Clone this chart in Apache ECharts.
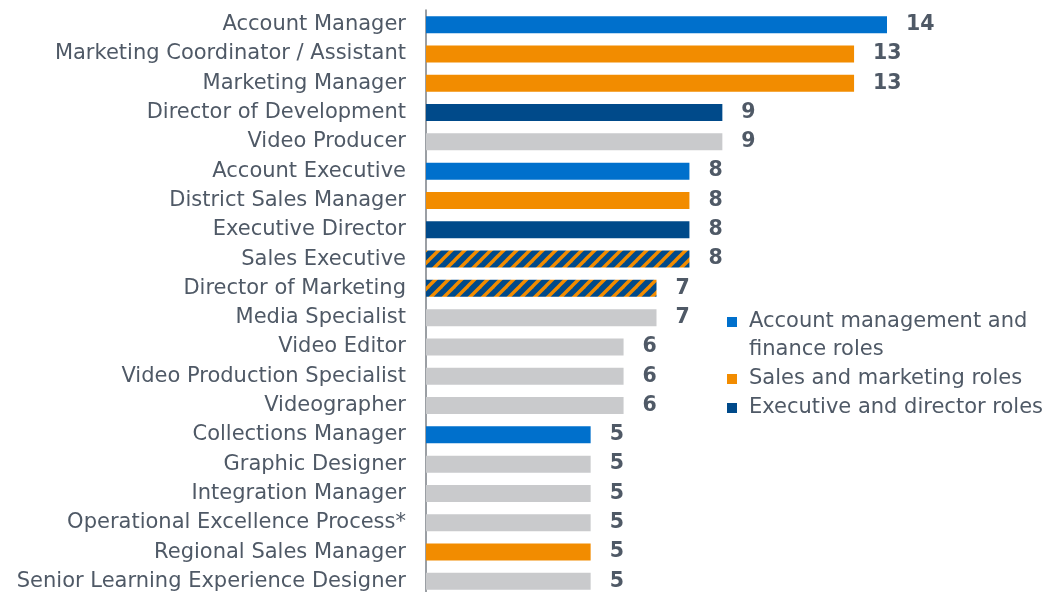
<!DOCTYPE html>
<html>
<head>
<meta charset="utf-8">
<script src="https://cdn.jsdelivr.net/npm/echarts@6/dist/echarts.min.js"></script>
<style>
  html, body { margin: 0; padding: 0; background: #fff; }
  #chart { width: 1051px; height: 592px; }
</style>
</head>
<body>
<div id="chart"></div>
<script>
// role titles, top to bottom
var roles = [
  "Account Manager",
  "Marketing Coordinator / Assistant",
  "Marketing Manager",
  "Director of Development",
  "Video Producer",
  "Account Executive",
  "District Sales Manager",
  "Executive Director",
  "Sales Executive",
  "Director of Marketing",
  "Media Specialist",
  "Video Editor",
  "Video Production Specialist",
  "Videographer",
  "Collections Manager",
  "Graphic Designer",
  "Integration Manager",
  "Operational Excellence Process*",
  "Regional Sales Manager",
  "Senior Learning Experience Designer"
];
var counts = [14, 13, 13, 9, 9, 8, 8, 8, 8, 7, 7, 6, 6, 6, 5, 5, 5, 5, 5, 5];
// group of each role: acct / sales / exec / mixed (sales + exec) / other
var groups = ["acct", "sales", "sales", "exec", "other", "acct", "sales", "exec", "mixed", "mixed",
  "other", "other", "other", "other", "acct", "other", "other", "other", "sales", "other"];
var groupNames = {
  acct: "Account management and finance roles",
  sales: "Sales and marketing roles",
  exec: "Executive and director roles",
  other: "Other roles",
  mixed: "Sales and executive roles"
};

var BLUE = "#0070cc";
var ORANGE = "#f28c00";
var NAVY = "#004a8a";
var GRAY = "#c9cacc";
var TEXT = "#4f5966";
var FONT = "DejaVu Sans";

// striped fill for roles that are both sales and executive
function stripes() {
  var s = 13;
  var c = document.createElement("canvas");
  c.width = s;
  c.height = s;
  var ctx = c.getContext("2d");
  ctx.fillStyle = NAVY;
  ctx.fillRect(0, 0, s, s);
  ctx.strokeStyle = ORANGE;
  ctx.lineWidth = 3.4;
  [[-s, s, s, -s], [0, s, s, 0], [0, 2 * s, 2 * s, 0]].forEach(function (l) {
    ctx.beginPath();
    ctx.moveTo(l[0], l[1]);
    ctx.lineTo(l[2], l[3]);
    ctx.stroke();
  });
  return c;
}

var groupColors = {
  acct: BLUE,
  sales: ORANGE,
  exec: NAVY,
  other: GRAY,
  mixed: { image: stripes(), repeat: "repeat" }
};

var order = ["acct", "sales", "exec", "other", "mixed"];
var series = order.map(function (g) {
  return {
    name: groupNames[g],
    type: "bar",
    stack: "all",
    barWidth: 17,
    itemStyle: { color: groupColors[g] },
    label: {
      show: true,
      position: "right",
      distance: 19,
      color: TEXT,
      fontWeight: "bold",
      fontSize: 20.5,
      fontFamily: FONT
    },
    data: counts.map(function (v, i) {
      return groups[i] === g ? v : "-";
    })
  };
});

var myChart = echarts.init(document.getElementById("chart"));
var option = {
  animation: false,
  // the last row runs past the bottom edge, as in the source image
  grid: { left: 426, top: 10, width: 461, height: 586, outerBoundsMode: "none" },
  legend: {
    orient: "vertical",
    left: 727,
    top: 280,
    padding: 0,
    icon: "rect",
    itemWidth: 10,
    itemHeight: 10,
    itemGap: 1,
    selectedMode: false,
    textStyle: {
      color: TEXT,
      fontSize: 21,
      fontFamily: FONT,
      lineHeight: 28,
      padding: [0, 0, 0, 7]
    },
    formatter: function (name) {
      // empty first line keeps the marker level with the first text line
      return name === groupNames.acct ? "\nAccount management and\nfinance roles" : name;
    },
    data: [groupNames.acct, groupNames.sales, groupNames.exec]
  },
  xAxis: {
    type: "value",
    min: 0,
    max: 14,
    show: false
  },
  yAxis: {
    type: "category",
    inverse: true,
    data: roles,
    axisTick: { show: false },
    axisLine: { lineStyle: { color: "#7a7f86", width: 1.5 } },
    axisLabel: {
      color: TEXT,
      fontSize: 21,
      fontFamily: FONT,
      margin: 20
    }
  },
  series: series
};
myChart.setOption(option);
</script>
</body>
</html>
